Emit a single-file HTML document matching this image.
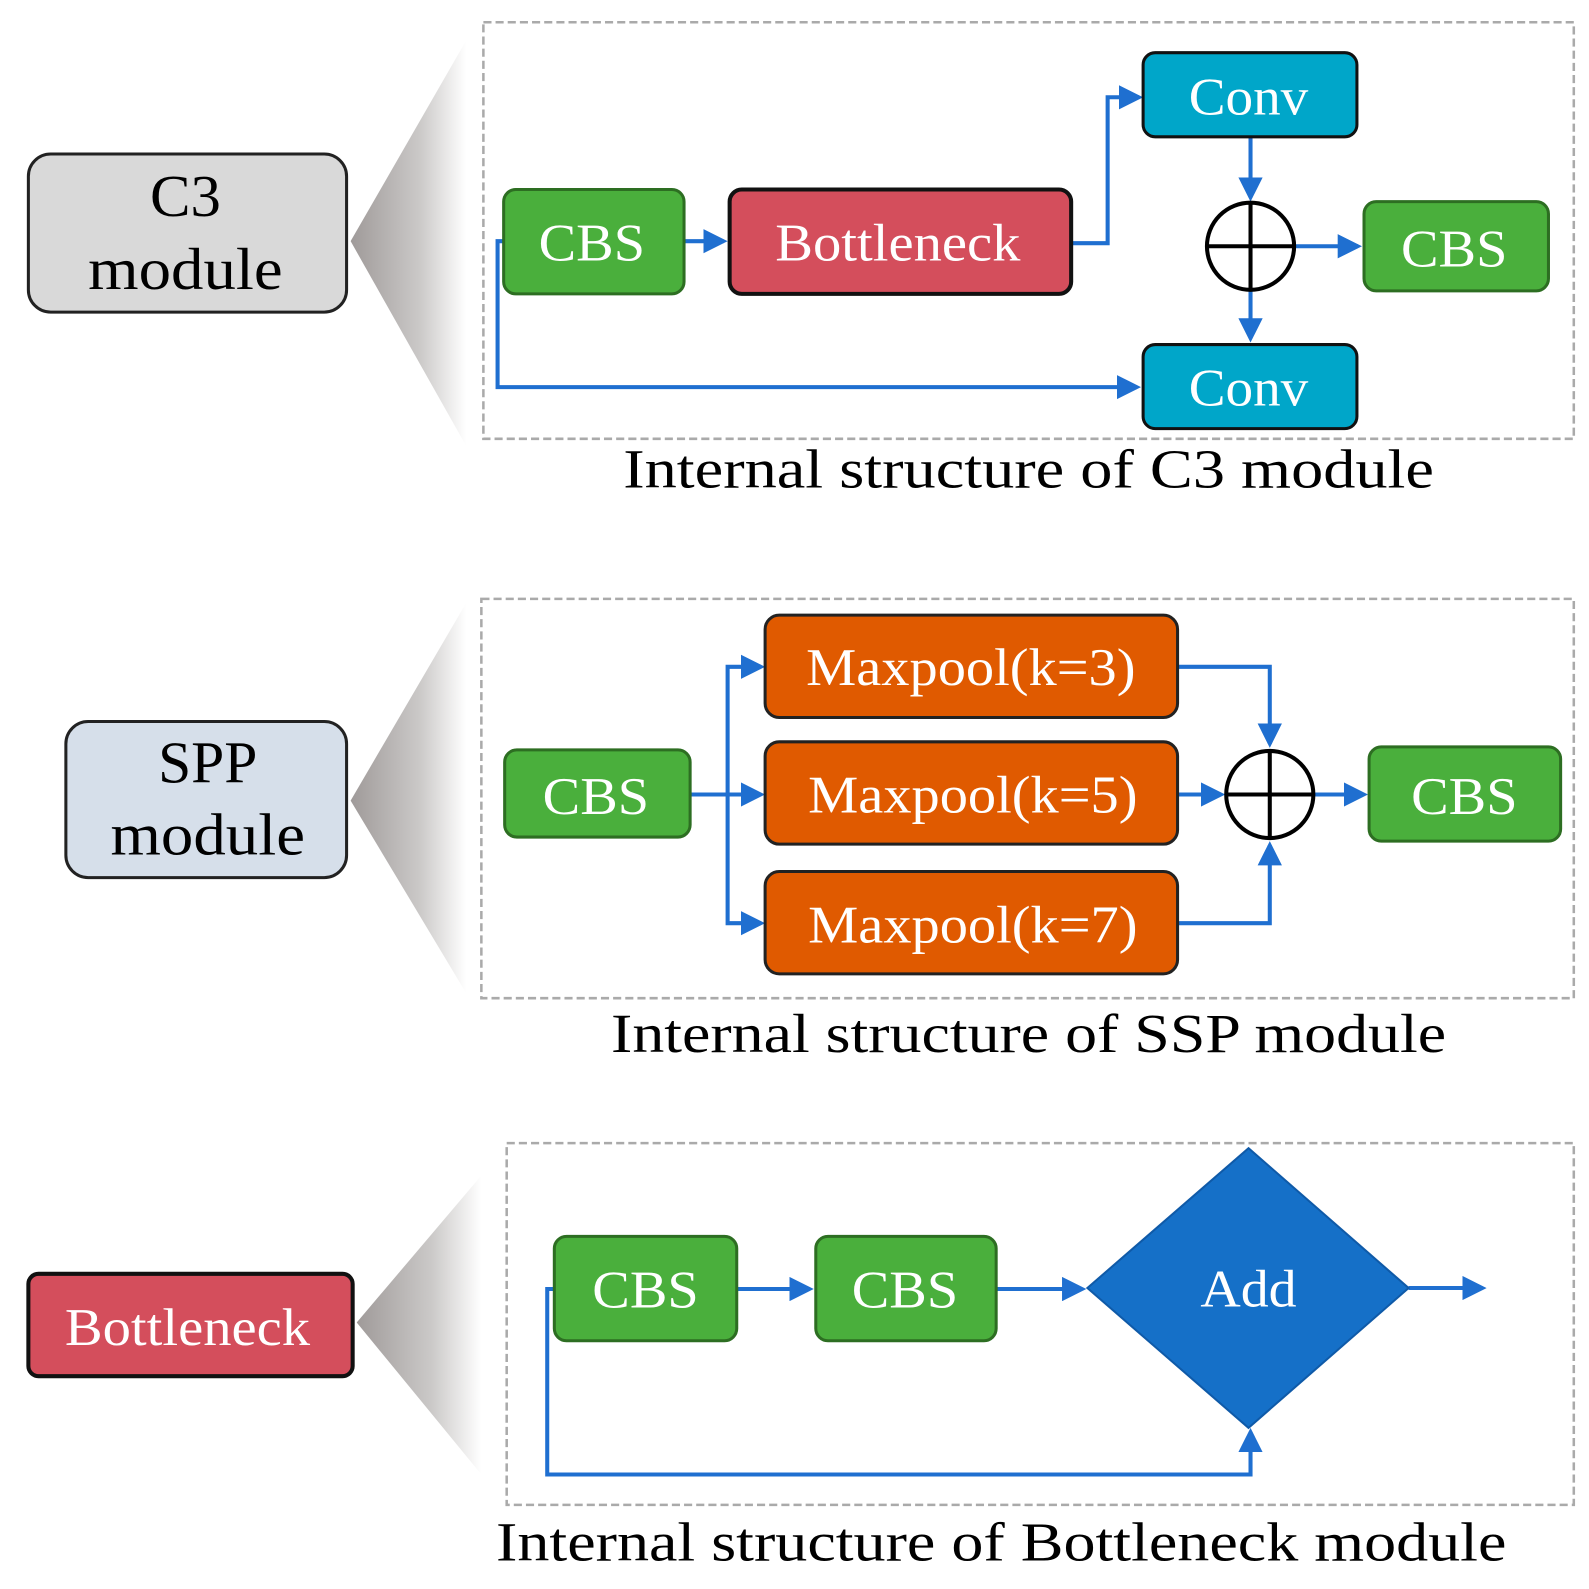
<!DOCTYPE html>
<html><head><style>body{margin:0;background:#fff}svg{display:block}</style></head><body>
<svg width="1589" height="1589" viewBox="0 0 1568 1568" preserveAspectRatio="none" xmlns="http://www.w3.org/2000/svg" font-family="Liberation Serif, serif">
<defs>
<linearGradient id="g" x1="0" x2="1" y1="0" y2="0"><stop offset="0" stop-color="#9f9a99"/><stop offset="0.6" stop-color="#cbc9c8"/><stop offset="1" stop-color="#fff"/></linearGradient>
<marker id="a" markerWidth="6" markerHeight="6" refX="5" refY="3" orient="auto" markerUnits="strokeWidth"><path d="M0,0 L6,3 L0,6z" fill="#1f6fd0"/></marker>
</defs>
<!-- C3 -->
<polygon points="346,238 460,40 460,440" fill="url(#g)"/>
<rect x="477" y="22" width="1076" height="411" fill="none" stroke="#aaa" stroke-width="2.5" stroke-dasharray="8,4"/>
<rect x="28" y="152" width="314" height="156" rx="22" fill="#d9d9d9" stroke="#222" stroke-width="3"/>
<text x="183" y="213" font-size="58" text-anchor="middle" textLength="70" lengthAdjust="spacingAndGlyphs">C3</text>
<text x="183" y="285" font-size="58" text-anchor="middle" textLength="192" lengthAdjust="spacingAndGlyphs">module</text>
<g stroke="#1f6fd0" stroke-width="4" fill="none">
<path d="M497,238 H491 V382 H1122" marker-end="url(#a)"/>
<path d="M675,238 H714" marker-end="url(#a)"/>
<path d="M1057,240 H1093 V96 H1124" marker-end="url(#a)"/>
<path d="M1234,135 V195" marker-end="url(#a)"/>
<path d="M1278,243 H1340" marker-end="url(#a)"/>
<path d="M1234,287 V334" marker-end="url(#a)"/>
</g>
<rect x="497" y="187" width="178" height="103" rx="12" fill="#4aaf3c" stroke="#2d6e22" stroke-width="3"/>
<text x="584" y="257" font-size="52" fill="#fff" text-anchor="middle" textLength="105" lengthAdjust="spacingAndGlyphs">CBS</text>
<rect x="720" y="187" width="337" height="103" rx="12" fill="#d44e5c" stroke="#111" stroke-width="4"/>
<text x="886" y="257" font-size="52" fill="#fff" text-anchor="middle" textLength="242" lengthAdjust="spacingAndGlyphs">Bottleneck</text>
<rect x="1128" y="52" width="211" height="83" rx="12" fill="#00a6c9" stroke="#111" stroke-width="3"/>
<text x="1232" y="113" font-size="52" fill="#fff" text-anchor="middle" textLength="118" lengthAdjust="spacingAndGlyphs">Conv</text>
<rect x="1128" y="340" width="211" height="83" rx="12" fill="#00a6c9" stroke="#111" stroke-width="3"/>
<text x="1232" y="400" font-size="52" fill="#fff" text-anchor="middle" textLength="118" lengthAdjust="spacingAndGlyphs">Conv</text>
<circle cx="1234" cy="243" r="43" fill="#fff" stroke="#000" stroke-width="4"/>
<path d="M1191,243 H1277 M1234,200 V286" stroke="#000" stroke-width="4"/>
<rect x="1346" y="199" width="182" height="88" rx="12" fill="#4aaf3c" stroke="#2d6e22" stroke-width="3"/>
<text x="1435" y="263" font-size="52" fill="#fff" text-anchor="middle" textLength="105" lengthAdjust="spacingAndGlyphs">CBS</text>
<text x="1015" y="481" font-size="54" text-anchor="middle" textLength="800" lengthAdjust="spacingAndGlyphs">Internal structure of C3 module</text>

<!-- SPP -->
<polygon points="346,790 460,595 460,980" fill="url(#g)"/>
<rect x="475" y="591" width="1078" height="394" fill="none" stroke="#aaa" stroke-width="2.5" stroke-dasharray="8,4"/>
<rect x="65" y="712" width="277" height="154" rx="22" fill="#d6dfea" stroke="#222" stroke-width="3"/>
<text x="205" y="772" font-size="58" text-anchor="middle" textLength="98" lengthAdjust="spacingAndGlyphs">SPP</text>
<text x="205" y="843" font-size="58" text-anchor="middle" textLength="192" lengthAdjust="spacingAndGlyphs">module</text>
<g stroke="#1f6fd0" stroke-width="4" fill="none">
<path d="M681,784 H751" marker-end="url(#a)"/>
<path d="M718,784 V658 H751" marker-end="url(#a)"/>
<path d="M718,784 V911 H751" marker-end="url(#a)"/>
<path d="M1162,658 H1253 V734" marker-end="url(#a)"/>
<path d="M1162,784 H1205" marker-end="url(#a)"/>
<path d="M1162,911 H1253 V834" marker-end="url(#a)"/>
<path d="M1297,784 H1346" marker-end="url(#a)"/>
</g>
<rect x="498" y="740" width="183" height="86" rx="12" fill="#4aaf3c" stroke="#2d6e22" stroke-width="3"/>
<text x="588" y="803" font-size="52" fill="#fff" text-anchor="middle" textLength="105" lengthAdjust="spacingAndGlyphs">CBS</text>
<g fill="#e05a00" stroke="#222" stroke-width="3">
<rect x="755" y="607" width="407" height="101" rx="14"/>
<rect x="755" y="732" width="407" height="101" rx="14"/>
<rect x="755" y="860" width="407" height="101" rx="14"/>
</g>
<g font-size="52" fill="#fff" text-anchor="middle">
<text x="958" y="676" textLength="325" lengthAdjust="spacingAndGlyphs">Maxpool(k=3)</text>
<text x="960" y="802" textLength="325" lengthAdjust="spacingAndGlyphs">Maxpool(k=5)</text>
<text x="960" y="930" textLength="325" lengthAdjust="spacingAndGlyphs">Maxpool(k=7)</text>
</g>
<circle cx="1253" cy="784" r="43" fill="#fff" stroke="#000" stroke-width="4"/>
<path d="M1210,784 H1296 M1253,741 V827" stroke="#000" stroke-width="4"/>
<rect x="1351" y="737" width="189" height="93" rx="12" fill="#4aaf3c" stroke="#2d6e22" stroke-width="3"/>
<text x="1445" y="803" font-size="52" fill="#fff" text-anchor="middle" textLength="105" lengthAdjust="spacingAndGlyphs">CBS</text>
<text x="1015" y="1038" font-size="54" text-anchor="middle" textLength="824" lengthAdjust="spacingAndGlyphs">Internal structure of SSP module</text>

<!-- Bottleneck -->
<polygon points="352,1305 475,1160 475,1455" fill="url(#g)"/>
<rect x="500" y="1128" width="1053" height="357" fill="none" stroke="#aaa" stroke-width="2.5" stroke-dasharray="8,4"/>
<rect x="28" y="1257" width="320" height="101" rx="10" fill="#d44e5c" stroke="#111" stroke-width="4"/>
<text x="185" y="1327" font-size="52" fill="#fff" text-anchor="middle" textLength="242" lengthAdjust="spacingAndGlyphs">Bottleneck</text>
<g stroke="#1f6fd0" stroke-width="4" fill="none">
<path d="M727,1272 H799" marker-end="url(#a)"/>
<path d="M983,1272 H1068" marker-end="url(#a)"/>
<path d="M1390,1271 H1463" marker-end="url(#a)"/>
<path d="M547,1272 H540 V1455 H1234 V1413" marker-end="url(#a)"/>
</g>
<rect x="547" y="1220" width="180" height="103" rx="12" fill="#4aaf3c" stroke="#2d6e22" stroke-width="3"/>
<text x="637" y="1290" font-size="52" fill="#fff" text-anchor="middle" textLength="105" lengthAdjust="spacingAndGlyphs">CBS</text>
<rect x="805" y="1220" width="178" height="103" rx="12" fill="#4aaf3c" stroke="#2d6e22" stroke-width="3"/>
<text x="893" y="1290" font-size="52" fill="#fff" text-anchor="middle" textLength="105" lengthAdjust="spacingAndGlyphs">CBS</text>
<polygon points="1232,1133 1390,1271 1232,1409 1073,1271" fill="#1570c8" stroke="#0f5aa8" stroke-width="2"/>
<text x="1232" y="1289" font-size="52" fill="#fff" text-anchor="middle" textLength="95" lengthAdjust="spacingAndGlyphs">Add</text>
<text x="988" y="1540" font-size="54" text-anchor="middle" textLength="997" lengthAdjust="spacingAndGlyphs">Internal structure of Bottleneck module</text>
</svg>
</body></html>
